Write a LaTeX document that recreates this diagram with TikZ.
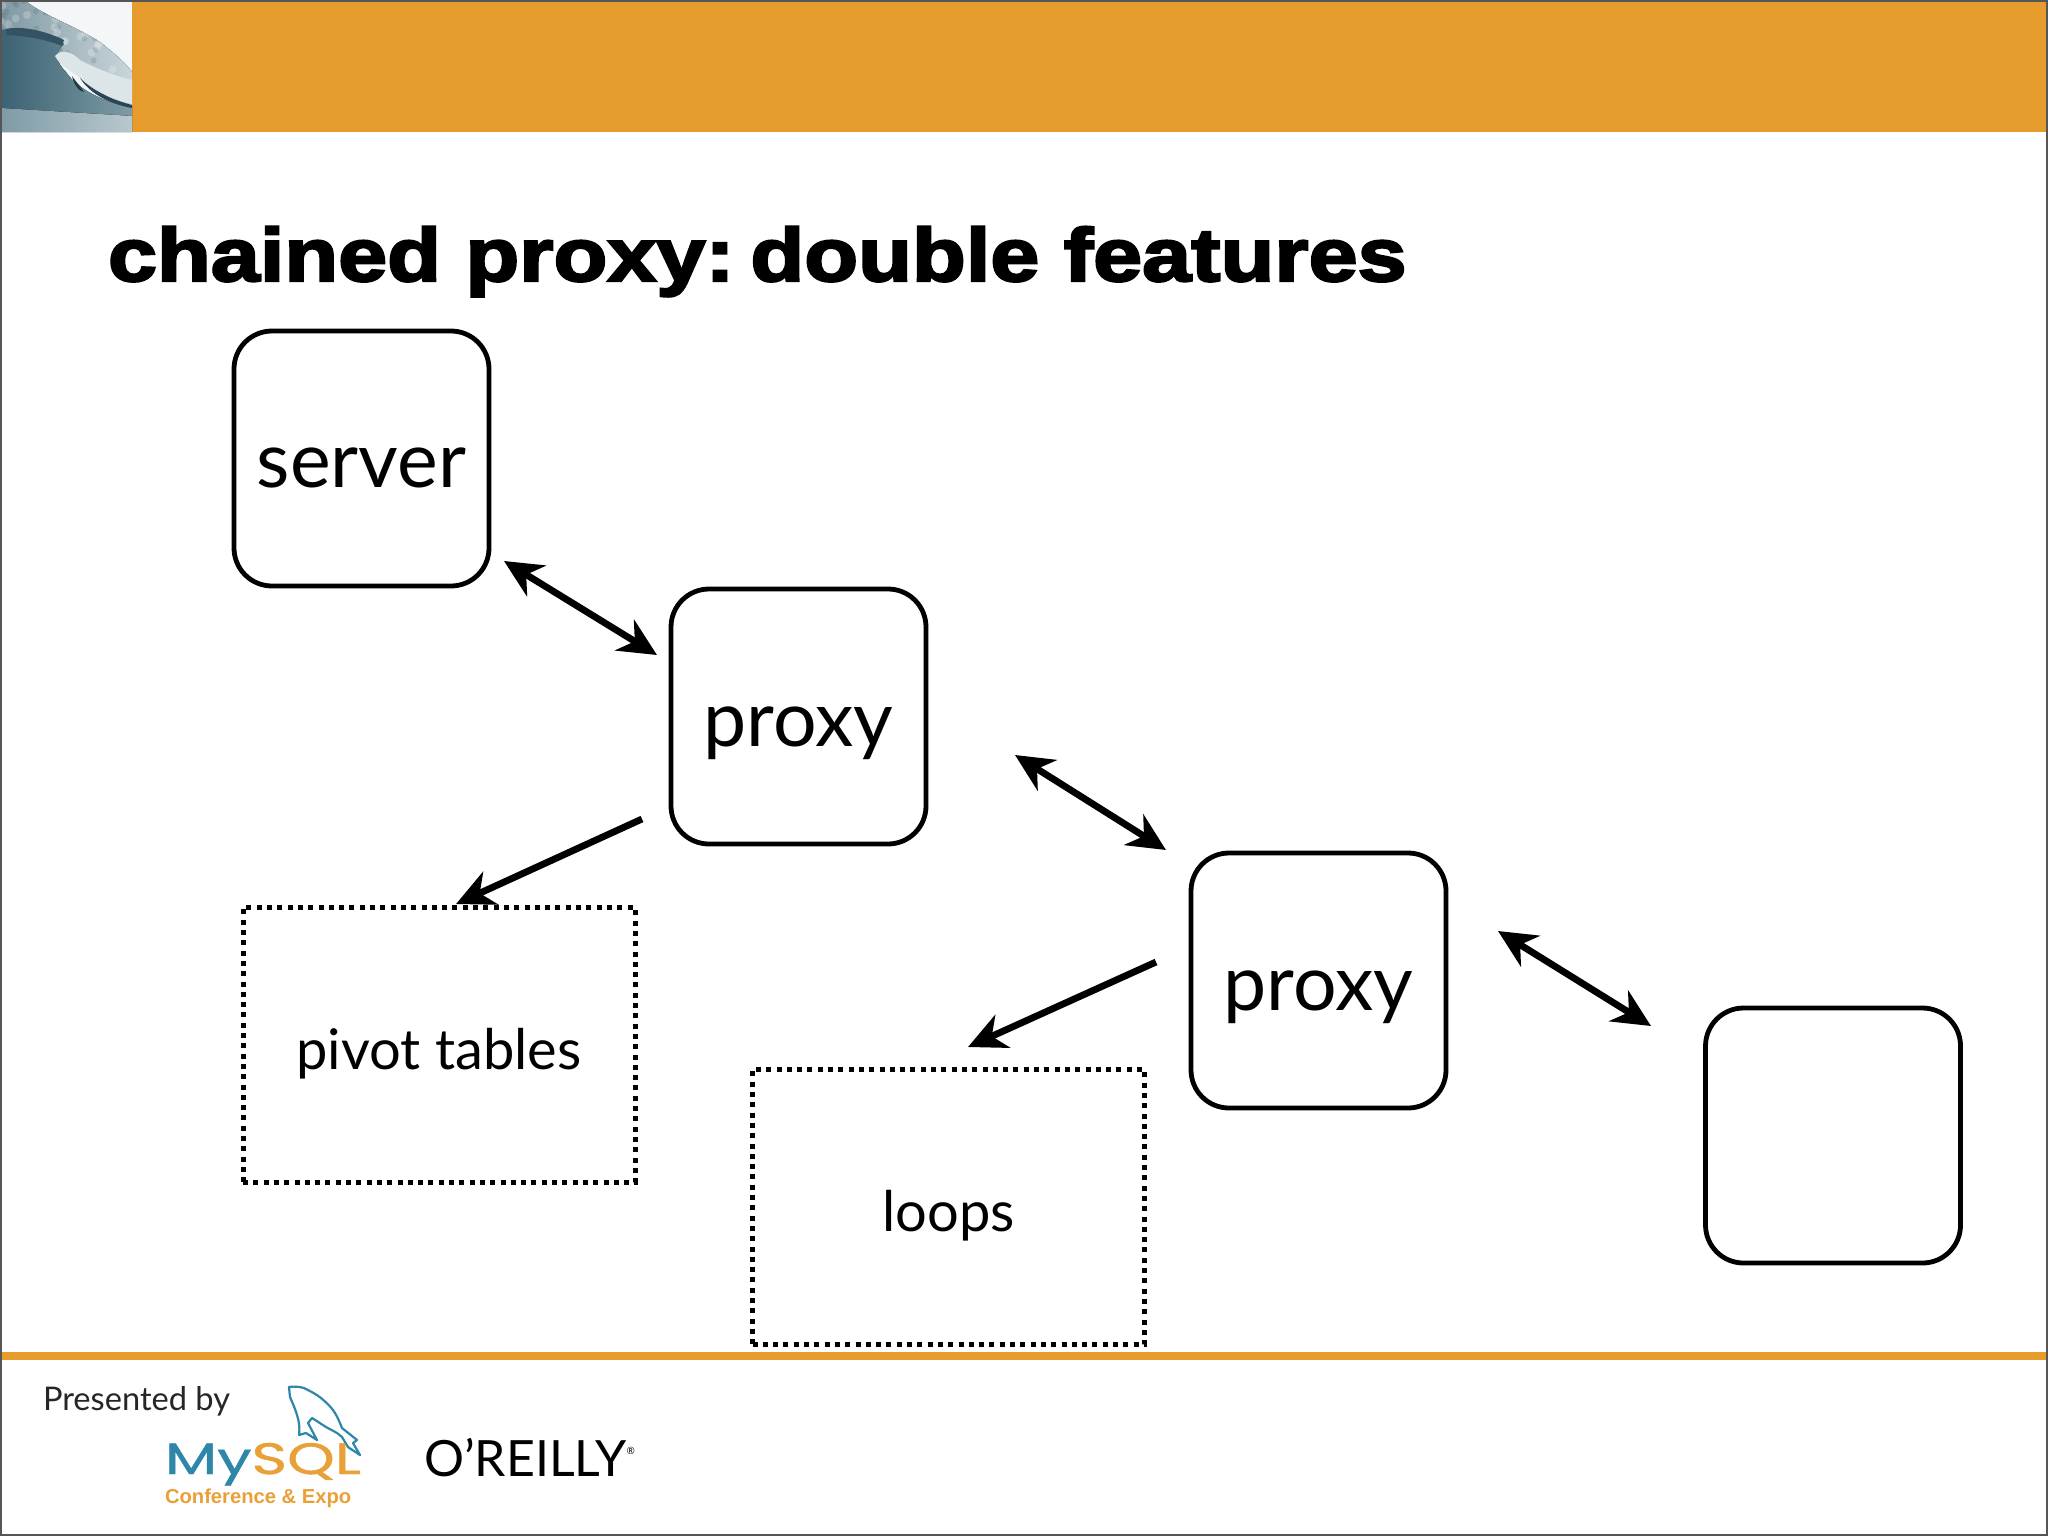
\documentclass[tikz,border=0pt]{standalone}
\usepackage{fontspec}
\setmainfont{Lato}
\newfontfamily\titlefont[FakeBold=3.2,FakeStretch=1.175]{Liberation Sans Bold}
\newfontfamily\armfont{Liberation Sans Bold}
\newfontfamily\logofont[FakeBold=1,FakeStretch=1.38]{Poppins}
\usetikzlibrary{arrows.meta}
\definecolor{band}{HTML}{E59C2C}
\definecolor{edgegray}{HTML}{555555}
\definecolor{mysqlblue}{HTML}{2E86A8}
\definecolor{mysqlorange}{HTML}{E9A036}
\definecolor{wavedark}{HTML}{3C6273}
\definecolor{wavemid}{HTML}{7E9BA6}
\definecolor{crest}{HTML}{7F98A2}
\definecolor{foam}{HTML}{DCE5E8}
\definecolor{sky}{HTML}{F4F7F8}
\newcommand{\lowerlabel}[2]{\raisebox{-#1}[0pt][0pt]{#2}}
\tikzset{
  every node/.style={inner sep=0pt,outer sep=0pt},
  roundbox/.style={draw=black,line width=2.4pt,rounded corners=19pt,minimum width=127.5pt,minimum height=127.5pt,font=\fontsize{38.5}{38.5}\selectfont},
  dotbox/.style={draw=black,line width=2.5pt,dash pattern=on 2.5pt off 2.65pt,minimum width=196pt,minimum height=137.5pt,font=\fontsize{28}{28}\selectfont},
  link/.style={line width=3.4pt,{Stealth[length=19pt,width=18pt,inset=6pt]}-{Stealth[length=19pt,width=18pt,inset=6pt]}},
  oneway/.style={line width=3.4pt,-{Stealth[length=19pt,width=18pt,inset=6pt]}},
}
\begin{document}
\begin{tikzpicture}[x=.5pt,y=-.5pt]
\useasboundingbox (0,0) rectangle (2048,1536);
\fill[white] (0,0) rectangle (2048,1536);
% header
\fill[band] (132,0) rectangle (2048,132);
\fill[sky] (0,0) rectangle (132,132);
% crest
\begin{scope}
\path[clip] (0,2) -- (27,2) .. controls (45,16) and (75,26) .. (100,42) .. controls (118,56) and (128,66) .. (132,72)
  -- (132,110) -- (60,60) -- (0,34) -- cycle;
\fill[left color=crest,right color=foam!80!crest] (0,0) rectangle (132,110);
\pgfmathsetseed{7}
\foreach \i in {1,...,70}{
  \pgfmathsetmacro{\px}{rnd*132}
  \pgfmathsetmacro{\py}{rnd*110}
  \fill[white,opacity=.22] (\px,\py) circle[radius=4];
  \pgfmathsetmacro{\qx}{rnd*132}
  \pgfmathsetmacro{\qy}{rnd*110}
  \fill[wavedark,opacity=.18] (\qx,\qy) circle[radius=3];
}
\end{scope}
% wave body
\fill[left color=wavedark,right color=wavemid]
  (1,30) .. controls (20,28) and (50,36) .. (64,44) .. controls (54,52) and (56,62) .. (66,72)
  .. controls (78,90) and (105,102) .. (132,108) -- (132,116) -- (1,108) -- cycle;
\fill[wavedark!85!black] (6,29) .. controls (25,25) and (50,33) .. (64,40) -- (62,46) .. controls (45,39) and (25,36) .. (6,35) -- cycle;
\fill[wavedark!60!black] (72,76) .. controls (76,82) and (82,88) .. (84,92) .. controls (80,92) and (74,86) .. (72,76) -- cycle;
% foam
\fill[foam] (55,56) .. controls (62,48) and (72,52) .. (80,60) .. controls (95,68) and (115,76) .. (132,80)
  -- (132,104) .. controls (112,100) and (92,90) .. (80,78) .. controls (70,70) and (60,66) .. (55,56) -- cycle;
\fill[wavedark!70!black] (80,78) .. controls (92,90) and (112,100) .. (132,105) -- (132,108) .. controls (110,104) and (90,94) .. (80,78) -- cycle;
\fill[left color=wavemid,right color=wavemid!55!white] (1,108) -- (132,116) -- (132,132) -- (1,132) -- cycle;
\fill[band] (0,1352) rectangle (2048,1360);
% frame
\draw[edgegray,line width=1pt] (1,1) rectangle (2047,1535);
% title
\node[anchor=base west,font=\titlefont\fontsize{37.5}{37.5}\selectfont] (title) at (108,281) {chained proxy:\kern-8.5pt{} double features};
% nodes
\node[roundbox] (server) at (361.5,458.5) {\lowerlabel{14.5pt}{server}};
\node[roundbox] (proxya) at (798.5,716.5) {\lowerlabel{15pt}{proxy}};
\node[roundbox] (proxyb) at (1318.5,980.5) {\lowerlabel{15pt}{proxy}};
\node[roundbox] (blank) at (1833,1135.5) {};
\node[dotbox] (pivot) at (439,1045) {\lowerlabel{12pt}{pivot tables}};
\node[dotbox] (loops) at (948.5,1207) {\lowerlabel{12pt}{loops}};
% connector ends
\coordinate (a1s) at (504,561);
\coordinate (a1e) at (657,655);
\coordinate (a2s) at (1015,755);
\coordinate (a2e) at (1166,850);
\coordinate (a3s) at (1498,931);
\coordinate (a3e) at (1651,1026);
\coordinate (b1s) at (642,819);
\coordinate (b1e) at (456,904);
\coordinate (b2s) at (1156,962);
\coordinate (b2e) at (968,1047);
\draw[link] (a1s) -- (a1e);
\draw[link] (a2s) -- (a2e);
\draw[link] (a3s) -- (a3e);
\draw[oneway] (b1s) -- (b1e);
\draw[oneway] (b2s) -- (b2e);
% footer
\node[anchor=base west,font=\fontsize{16.3}{16.3}\selectfont,text=black!85] (presented) at (43,1410) {Presented by};
\draw[mysqlblue,line width=1.1pt,line join=round]
  (289,1387) .. controls (296,1386) and (300,1387) .. (304,1388) .. controls (310,1391) and (316,1394) .. (321,1398)
  .. controls (328,1404) and (332,1408) .. (335,1413) .. controls (338,1418) and (340,1423) .. (342,1428)
  -- (357,1440) -- (353,1443) -- (360,1455) -- (348,1447) -- (342,1437) .. controls (337,1432) and (331,1430) .. (326,1427)
  -- (312,1418) -- (308,1423) -- (317,1440) -- (306,1433) -- (299,1435) .. controls (300,1428) and (299,1421) .. (297,1415)
  .. controls (295,1408) and (292,1402) .. (290,1397) -- cycle;
\node[anchor=base west,font=\logofont\fontsize{22}{22}\selectfont] (mysql) at (165,1474) {\textcolor{mysqlblue}{My}\textcolor{mysqlorange}{SQL}};
\node[anchor=base west,font=\armfont\fontsize{10.1}{10.1}\selectfont,text=mysqlorange] (conf) at (165,1503.5) {Conference \& Expo};
\node[anchor=base west,font=\fontsize{25}{25}\selectfont,text=black] (oreilly) at (424,1476) {O’REILLY\raisebox{11pt}{\fontsize{5}{5}\selectfont ®}};
\end{tikzpicture}
\end{document}
